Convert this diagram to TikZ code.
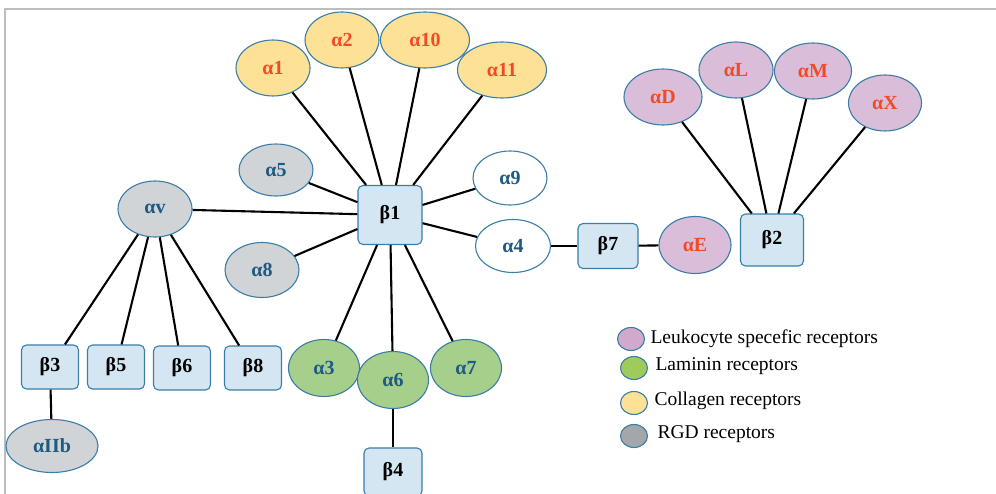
\documentclass[tikz,border=0pt]{standalone}
\usepackage{fontspec}
\setmainfont{Liberation Serif}
\usetikzlibrary{shapes.geometric}
\definecolor{rimblue}{HTML}{3A7DA6}
\definecolor{textblue}{HTML}{1E5A82}
\definecolor{textred}{HTML}{F04A2A}
\definecolor{boxfill}{HTML}{D4E6F2}
\definecolor{greyfill}{HTML}{D0D4D7}
\definecolor{yellowfill}{HTML}{FCE196}
\definecolor{purplefill}{HTML}{D9BDD9}
\definecolor{greenfill}{HTML}{A7CF8C}
\definecolor{framegrey}{HTML}{BDBDBD}
\definecolor{keypurple}{HTML}{D1A9CD}
\definecolor{keygreen}{HTML}{9FCB5B}
\definecolor{keygrey}{HTML}{A4A7A9}

\begin{document}
\begin{tikzpicture}[x=1pt,y=-1pt,
    alpha/.style={ellipse,draw=rimblue,line width=1.1pt,minimum width=74pt,minimum height=56pt,
      inner sep=0pt,font=\fontsize{20}{22}\selectfont\bfseries,text=textblue},
    collagen/.style={alpha,fill=yellowfill,text=textred},
    leuko/.style={alpha,fill=purplefill,text=textred},
    rgd/.style={alpha,fill=greyfill},
    laminin/.style={alpha,fill=greenfill,minimum width=71pt,minimum height=57pt},
    other/.style={alpha,fill=white},
    beta/.style={rectangle,rounded corners=5pt,draw=rimblue,line width=1.1pt,fill=boxfill,
      minimum width=57pt,minimum height=44pt,inner sep=0pt,font=\fontsize{20}{22}\selectfont\bfseries},
    link/.style={line width=2.1pt},
    key/.style={ellipse,draw=rimblue,line width=1.1pt,minimum width=27pt,minimum height=23pt,inner sep=0pt},
    keytext/.style={anchor=west,font=\fontsize{19.5}{21}\selectfont}]

  \useasboundingbox (0,0) rectangle (996,494);
  \draw[framegrey,line width=2pt] (5,494) -- (5,9) -- (996,9);

  \node[beta,minimum width=64pt,minimum height=59pt] (b1) at (390,215) {β1};
  \node[beta,minimum width=63pt,minimum height=52pt] (b2) at (772,240) {β2};
  \node[beta,minimum width=60pt,minimum height=45pt] (b7) at (608,246) {β7};
  \node[beta] (b3) at (50,367) {β3};
  \node[beta] (b5) at (116,367) {β5};
  \node[beta] (b6) at (182,368) {β6};
  \node[beta] (b8) at (253,368) {β8};
  \node[beta,minimum width=58pt,minimum height=48pt] (b4) at (393,472) {β4};

  \node[collagen] (a1) at (273,68) {α1};
  \node[collagen] (a2) at (342,40) {α2};
  \node[collagen,minimum width=89pt] (a10) at (425,40) {α10};
  \node[collagen,minimum width=89pt] (a11) at (502,70) {α11};

  \node[rgd,minimum height=52pt] (a5) at (276,170) {α5};
  \node[rgd] (av) at (155,209) {αv};
  \node[rgd,minimum height=55pt] (a8) at (262,270) {α8};
  \node[rgd,minimum width=92pt,minimum height=53pt] (aIIb) at (52,446) {αIIb};

  \node[other,minimum height=54pt] (a9) at (510,178) {α9};
  \node[other,minimum width=75pt,minimum height=53pt] (a4) at (513,246) {α4};

  \node[laminin] (a3) at (324,368) {α3};
  \node[laminin] (a6) at (393,380) {α6};
  \node[laminin] (a7) at (466,368) {α7};

  \node[leuko,minimum width=72pt,minimum height=57pt] (aE) at (695,245) {αE};
  \node[leuko,minimum width=78pt] (aD) at (663,97) {αD};
  \node[leuko] (aL) at (736,70) {αL};
  \node[leuko,minimum width=77pt] (aM) at (813,71) {αM};
  \node[leuko,minimum width=73pt] (aX) at (885,103) {αX};

  \foreach \a in {a1,a2,a10,a11,a5,a9,a4,a8,a3,a6,a7,av}
    \draw[link] (\a) -- (b1);
  \foreach \b in {b3,b5,b6,b8}
    \draw[link] (av) -- (\b);
  \draw[link] (b3) -- (aIIb);
  \draw[link] (a6) -- (b4);
  \draw[link] (a4) -- (b7);
  \draw[link] (b7) -- (aE);
  \foreach \a in {aD,aL,aM,aX}
    \draw[link] (\a) -- (b2);

  \node[key,fill=keypurple] (kleuko) at (631,339) {};
  \node[key,fill=keygreen] (klam) at (634,368) {};
  \node[key,fill=yellowfill] (kcol) at (634,403) {};
  \node[key,fill=keygrey] (krgd) at (634,436) {};
  \node[keytext] (tleuko) at (647,339) {Leukocyte specefic receptors};
  \node[keytext] (tlam) at (652,366) {Laminin receptors};
  \node[keytext] (tcol) at (651,401) {Collagen receptors};
  \node[keytext] (trgd) at (654,434) {RGD receptors};
\end{tikzpicture}
\end{document}
